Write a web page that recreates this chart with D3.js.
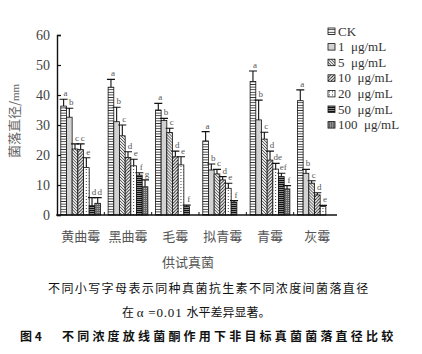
<!DOCTYPE html>
<html>
<head>
<meta charset="utf-8">
<script src="https://cdn.jsdelivr.net/npm/d3@7"></script>
<style>
  body { margin: 0; background: #fff; }
  svg { display: block; }
  text { white-space: pre; }
</style>
</head>
<body>
<div id="chart"></div>
<script>
// fungi tested
const categories = ["黄曲霉", "黑曲霉", "毛霉", "拟青霉", "青霉", "灰霉"];
// treatments (legend order)
const series = ["CK", "1  μg/mL", "5  μg/mL", "10  μg/mL", "20  μg/mL", "50  μg/mL", "100  μg/mL"];

// colony diameter (mm), one row per fungus, one value per treatment
const means = [
  [36.3, 32.6, 22.0, 21.8, 15.8, 3.1, 3.9],
  [42.6, 31.1, 26.4, 19.2, 16.4, 13.3, 9.4],
  [35.0, 31.5, 27.5, 19.4, 16.7, 2.8, 0],
  [24.7, 15.0, 13.7, 11.7, 8.9, 4.3, 0],
  [44.5, 31.7, 25.3, 18.3, 15.3, 12.8, 8.7],
  [38.1, 13.9, 10.6, 6.7, 2.8, 0, 0]
];
// upper error bar length
const errors = [
  [2.3, 3.0, 1.7, 1.9, 3.3, 2.7, 1.9],
  [2.6, 4.8, 3.6, 1.9, 2.2, 0.8, 2.3],
  [2.2, 0.7, 1.4, 1.9, 2.7, 0.5, 0],
  [3.1, 2.0, 1.5, 1.1, 1.7, 0.5, 0],
  [3.5, 6.6, 2.3, 3.0, 1.9, 1.1, 1.1],
  [3.6, 1.3, 0.8, 0.7, 0.4, 0, 0]
];
// significance letters
const letters = [
  ["a", "b", "c", "c", "e", "d", "d"],
  ["a", "b", "c", "d", "e", "f", "g"],
  ["a", "b", "c", "d", "e", "f", ""],
  ["a", "b", "c", "d", "e", "f", ""],
  ["a", "b", "c", "d", "de", "ef", "f"],
  ["a", "b", "c", "d", "e", "", ""]
];
const yTicks = [0, 10, 20, 30, 40, 50, 60];

const width = 422, height = 354;
const serif = "'Liberation Serif', 'DejaVu Serif', serif";
const cjk = "'Noto Sans CJK SC', sans-serif";

const svg = d3.select("#chart").append("svg")
  .attr("width", width)
  .attr("height", height);

/* PATTERNS */
const defs = svg.append("defs");

function pattern(id, w, h, bg) {
  const p = defs.append("pattern")
    .attr("id", id)
    .attr("patternUnits", "userSpaceOnUse")
    .attr("width", w)
    .attr("height", h);
  p.append("rect").attr("width", w).attr("height", h).attr("fill", bg);
  return p;
}

// CK: ladder of horizontal rungs
pattern("p0", 4, 2.6, "#fff")
  .append("line").attr("x1", 0).attr("x2", 4).attr("y1", 1.3).attr("y2", 1.3)
  .attr("stroke", "#111").attr("stroke-width", 0.8);
// 1: plain light gray
pattern("p1", 4, 4, "#d2d2d2");
// 5: dense back diagonal
const p2 = pattern("p2", 3, 3, "#eee");
p2.append("path").attr("d", "M-1,-1 L4,4 M-1,2 L1,4 M2,-1 L4,1")
  .attr("stroke", "#222").attr("stroke-width", 0.8);
// 10: forward diagonal
const p3 = pattern("p3", 3.2, 3.2, "#fff");
p3.append("path").attr("d", "M-1,4.2 L4.2,-1 M-1,1 L1,-1 M2.2,4.2 L4.2,2.2")
  .attr("stroke", "#111").attr("stroke-width", 0.9);
// 20: dots
const p4 = pattern("p4", 3, 3, "#fff");
p4.append("rect").attr("x", 1).attr("y", 1).attr("width", 1).attr("height", 1).attr("fill", "#444");
// 50: dark horizontal stripes
pattern("p5", 4, 2, "#8a8a8a")
  .append("rect").attr("x", 0).attr("y", 0).attr("width", 4).attr("height", 1).attr("fill", "#111");
// 100: dark check with light dots
const p6 = pattern("p6", 2, 2, "#666");
p6.append("rect").attr("x", 0).attr("y", 0).attr("width", 1).attr("height", 1).attr("fill", "#bbb");

/* SCALES */
const y = d3.scaleLinear().domain([0, 60]).range([215, 35]);

const x0 = d3.scaleBand()
  .domain(categories)
  .range([57, 341])
  .paddingInner(0.16)
  .paddingOuter(0.08);

const x1 = d3.scaleBand()
  .domain(d3.range(series.length))
  .range([0, x0.bandwidth()]);

/* BARS */
const groups = svg.append("g")
  .selectAll("g")
  .data(categories)
  .join("g")
  .attr("transform", (d) => `translate(${x0(d)},0)`);

const cells = groups.selectAll("g")
  .data((d, i) => means[i].map((v, j) => ({
    value: v, err: errors[i][j], letter: letters[i][j], s: j
  })).filter((d) => d.value > 0))
  .join("g");

cells.append("rect")
  .attr("x", (d) => x1(d.s))
  .attr("y", (d) => y(d.value))
  .attr("width", x1.bandwidth())
  .attr("height", (d) => y(0) - y(d.value))
  .attr("fill", (d) => `url(#p${d.s})`)
  .attr("stroke", "#111")
  .attr("stroke-width", 0.8);

// upper error bars
const cx = (d) => x1(d.s) + x1.bandwidth() / 2;
cells.append("path")
  .attr("d", (d) => {
    const top = y(d.value + d.err);
    return `M${cx(d)},${y(d.value)} V${top} M${cx(d) - 4},${top} H${cx(d) + 4}`;
  })
  .attr("fill", "none")
  .attr("stroke", "#111")
  .attr("stroke-width", 1.1);

cells.append("text")
  .attr("x", (d) => cx(d) + 2)
  .attr("y", (d) => y(d.value + d.err) - 3)
  .attr("text-anchor", "middle")
  .attr("font-family", serif)
  .attr("font-size", 9)
  .attr("fill", "#555")
  .text((d) => d.letter);

/* AXES */
const yAxis = svg.append("g")
  .attr("transform", "translate(57,0)")
  .call(d3.axisLeft(y).tickValues(yTicks).tickSize(-4).tickPadding(7));
yAxis.select(".domain").attr("stroke", "#111").attr("stroke-width", 1.4);
yAxis.selectAll(".tick line").attr("stroke", "#111").attr("stroke-width", 1.2);
yAxis.selectAll("text")
  .attr("font-family", serif)
  .attr("font-size", 14)
  .attr("fill", "#444");

// x axis line with small inner marks between groups
svg.append("line")
  .attr("x1", 56.3).attr("x2", 337)
  .attr("y1", y(0)).attr("y2", y(0))
  .attr("stroke", "#111").attr("stroke-width", 1.4);

const gap = (x0.step() - x0.bandwidth()) / 2;
svg.append("g")
  .selectAll("line")
  .data(categories.slice(1))
  .join("line")
  .attr("x1", (d) => x0(d) - gap)
  .attr("x2", (d) => x0(d) - gap)
  .attr("y1", y(0))
  .attr("y2", y(0) - 3)
  .attr("stroke", "#111")
  .attr("stroke-width", 1);

svg.append("g")
  .selectAll("text")
  .data(categories)
  .join("text")
  .attr("x", (d) => x0(d) + x0.bandwidth() / 2)
  .attr("y", 241)
  .attr("text-anchor", "middle")
  .attr("font-family", cjk)
  .attr("font-size", 13)
  .attr("fill", "#555")
  .text((d) => d);

svg.append("text")
  .attr("x", 188)
  .attr("y", 267)
  .attr("text-anchor", "middle")
  .attr("font-family", cjk)
  .attr("font-size", 13)
  .attr("fill", "#555")
  .text("供试真菌");

const yTitle = svg.append("text")
  .attr("transform", "translate(19,121) rotate(-90)")
  .attr("text-anchor", "middle")
  .attr("font-family", cjk)
  .attr("font-size", 13)
  .attr("fill", "#666");
yTitle.append("tspan").text("菌落直径/");
yTitle.append("tspan").attr("font-family", serif).attr("font-size", 11).text("mm");

/* LEGEND */
const legend = svg.append("g")
  .selectAll("g")
  .data(series)
  .join("g")
  .attr("transform", (d, i) => `translate(328,${31 + i * 15.6})`);

legend.append("rect")
  .attr("x", 0).attr("y", -3)
  .attr("width", 7).attr("height", 6.5)
  .attr("fill", (d, i) => `url(#p${i})`)
  .attr("stroke", "#111").attr("stroke-width", 0.8);

legend.append("text")
  .attr("x", 10)
  .attr("y", 4.5)
  .attr("font-family", serif)
  .attr("font-size", 13)
  .attr("fill", "#333")
  .text((d) => d);

/* NOTES AND CAPTION */
svg.append("text")
  .attr("x", 48)
  .attr("y", 293)
  .attr("font-family", cjk)
  .attr("font-size", 12)
  .attr("letter-spacing", 1.4)
  .attr("fill", "#111")
  .text("不同小写字母表示同种真菌抗生素不同浓度间菌落直径");

const note2 = svg.append("text")
  .attr("x", 122)
  .attr("y", 317)
  .attr("font-family", cjk)
  .attr("font-size", 12)
  .attr("fill", "#111");
note2.append("tspan").text("在 ");
note2.append("tspan").attr("font-family", serif).attr("font-size", 13)
  .attr("letter-spacing", 0.8).text("α =0.01 ");
note2.append("tspan").text("水平差异显著。");

svg.append("text")
  .attr("x", 20)
  .attr("y", 341)
  .attr("font-family", cjk)
  .attr("font-size", 12)
  .attr("font-weight", "bold")
  .attr("fill", "#111")
  .text("图 4");

svg.append("text")
  .attr("x", 62)
  .attr("y", 341)
  .attr("font-family", cjk)
  .attr("font-size", 12)
  .attr("font-weight", "bold")
  .attr("letter-spacing", 3.2)
  .attr("fill", "#111")
  .text("不同浓度放线菌酮作用下非目标真菌菌落直径比较");
</script>
</body>
</html>
